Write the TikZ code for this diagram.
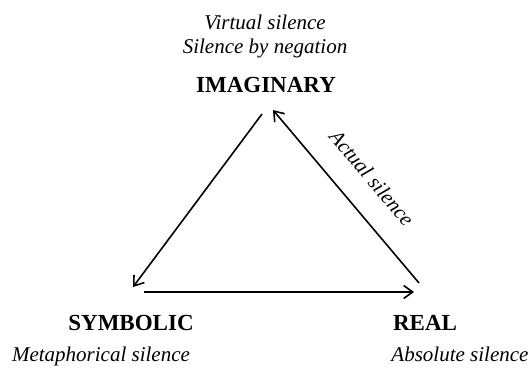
\documentclass[tikz,border=0pt]{standalone}
\usepackage{fontspec}
\setmainfont{Liberation Serif}
\usetikzlibrary{arrows.meta}
\begin{document}
\begin{tikzpicture}[x=1bp,y=-1bp,
  corner/.style={font=\fontsize{23bp}{26bp}\selectfont\bfseries, anchor=base, inner sep=0pt},
  note/.style={font=\fontsize{21bp}{24bp}\selectfont\itshape, anchor=base, inner sep=0pt},
  conn/.style={line width=1.6bp, -{Straight Barb[length=9bp,width=13bp,line width=1.6bp]}}]
\useasboundingbox (0,0) rectangle (531,370);
% texts
\node[note] (virt) at (265,29) {Virtual silence};
\node[note] (neg) at (265,53) {Silence by negation};
\node[corner] (imag) at (266,92) {IMAGINARY};
\node[corner] (symb) at (131,330) {SYMBOLIC};
\node[note] (meta) at (101,361) {Metaphorical silence};
\node[corner] (real) at (425,330) {REAL};
\node[note] (abs) at (460,361) {Absolute silence};
% connector ends
\coordinate (iL) at (262,114);
\coordinate (sT) at (133,287);
\coordinate (sR) at (144,292);
\coordinate (rL) at (414,292);
\coordinate (rT) at (419,283);
\coordinate (iR) at (273,110);
\draw[conn] (iL) -- (sT);
\draw[conn] (sR) -- (rL);
\draw[conn] (rT) -- (iR);
\node[font=\fontsize{21bp}{24bp}\selectfont\itshape, rotate=-49.8, inner sep=0pt] (act) at (372,178) {Actual silence};
\end{tikzpicture}
\end{document}
